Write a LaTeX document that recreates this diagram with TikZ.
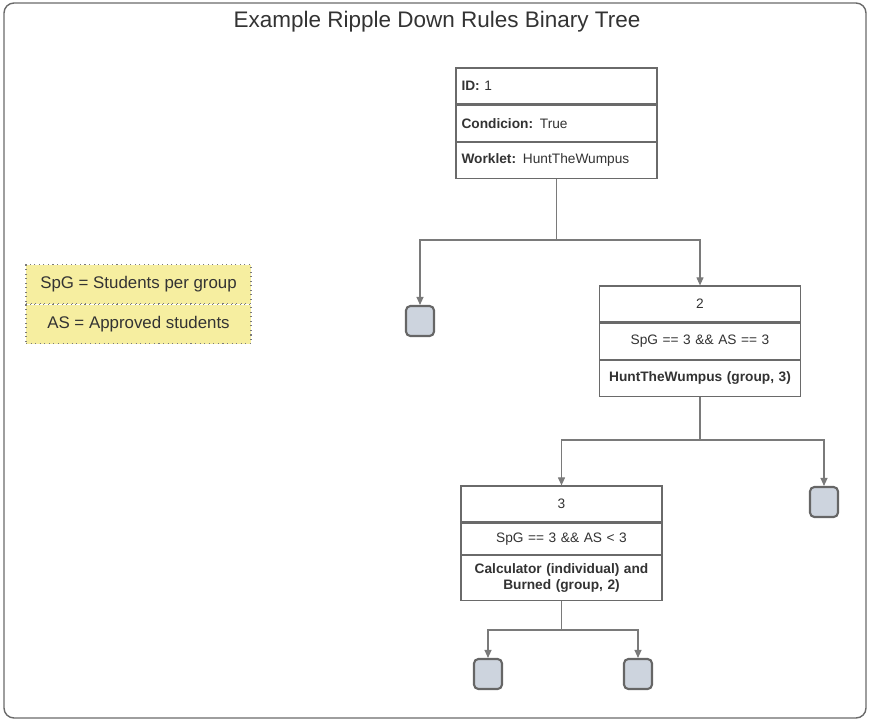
\documentclass[tikz,border=0pt]{standalone}
\usepackage{fontspec}
\setsansfont{Liberation Sans}
\usetikzlibrary{arrows.meta, positioning}
\definecolor{cframe}{HTML}{6A6A6A}
\definecolor{ctext}{HTML}{333333}
\definecolor{cleaf}{HTML}{CDD4DE}
\definecolor{cleafline}{HTML}{666666}
\definecolor{cnote}{HTML}{F6EEA0}
\definecolor{cline}{HTML}{7A7A7A}
\tikzset{
  every picture/.style={font=\sffamily\fontsize{7.8}{9.6}\selectfont, line width=0.6pt},
  cell/.style={draw=cframe, fill=white, line width=0.7pt, text=ctext, text width=3.8cm,
    inner xsep=0.11cm, inner ysep=2pt, minimum height=0.72cm, align=#1},
  cell/.default=center,
  leaf/.style={draw=cleafline, fill=cleaf, rounded corners=2.5pt, line width=1.2pt,
    minimum width=0.56cm, minimum height=0.6cm},
  notecell/.style={draw=cline, dotted, fill=cnote, text=ctext, minimum width=4.5cm,
    minimum height=0.78cm, font=\sffamily\fontsize{9.6}{11}\selectfont},
  link/.style={draw=cline, -{Triangle[length=1.6mm, width=1.4mm]}},
  title/.style={font=\sffamily\fontsize{12.8}{14}\selectfont, text=ctext},
}

\begin{document}
\begin{tikzpicture}[x=0.02cm, y=-0.02cm]
  \useasboundingbox (0,0) rectangle (869,721);
  \draw[cframe, line width=0.8pt, rounded corners=0.2cm] (4,3) rectangle (866,718);
  \node[title] (title) at (437,22) {Example Ripple Down Rules Binary Tree};
  % legend
  \node[notecell] (spg) at (138.5,284) {SpG = Students per group};
  \node[notecell, below=0pt of spg] (as) {AS = Approved students};
  % rule 1
  \node[cell=left] (r1id) at (556.5,86) {\textbf{ID:} 1};
  \node[cell=left, below=0pt of r1id] (r1cond) {\textbf{Condicion:} True};
  \node[cell=left, below=0pt of r1cond] (r1work) {\textbf{Worklet:} HuntTheWumpus};
  % rule 2
  \node[cell] (r2id) at (700,304) {2};
  \node[cell, below=0pt of r2id] (r2cond) {SpG == 3 \&\& AS == 3};
  \node[cell, below=0pt of r2cond] (r2work) {\textbf{HuntTheWumpus (group, 3)}};
  % rule 3
  \node[cell] (r3id) at (561.5,504) {3};
  \node[cell, below=0pt of r3id, minimum height=0.62cm] (r3cond) {SpG == 3 \&\& AS < 3};
  \node[cell, below=0pt of r3cond, minimum height=0.9cm] (r3work) {\textbf{Calculator (individual) and}\\\textbf{Burned (group, 2)}};
  % empty leaves
  \node[leaf] (leafA) at (420,321) {};
  \node[leaf] (leafB) at (824,502) {};
  \node[leaf] (leafC) at (488,674) {};
  \node[leaf] (leafD) at (638,674) {};
  % connectors
  \coordinate (j1) at (r1work.south |- 0,240);
  \coordinate (j2) at (r2work.south |- 0,440);
  \coordinate (j3) at (r3work.south |- 0,630);
  \draw[cline] (r1work) -- (j1);
  \draw[link] (j1) -| (leafA);
  \draw[link] (j1) -| (r2id);
  \draw[cline] (r2work) -- (j2);
  \draw[link] (j2) -| (r3id);
  \draw[link] (j2) -| (leafB);
  \draw[cline] (r3work) -- (j3);
  \draw[link] (j3) -| (leafC);
  \draw[link] (j3) -| (leafD);
\end{tikzpicture}
\end{document}
